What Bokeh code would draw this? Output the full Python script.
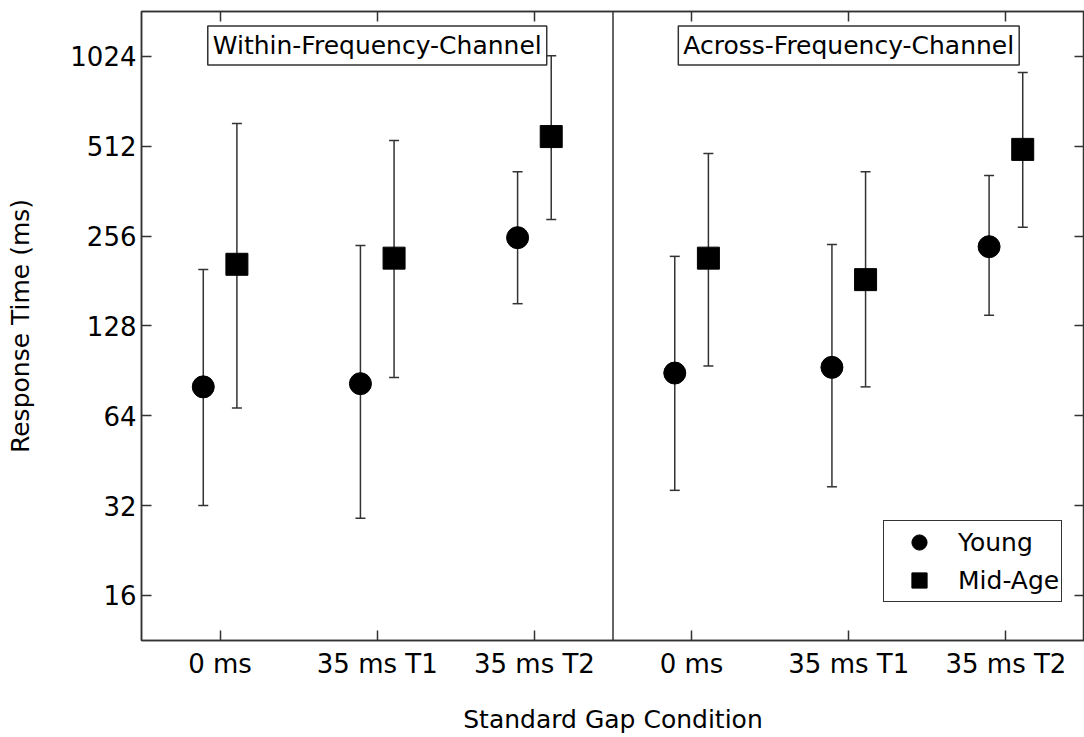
import numpy as np
from bokeh.plotting import figure
from bokeh.models import (ColumnDataSource, Whisker, TeeHead, Range1d, FixedTicker,
                          LinearAxis, LogAxis, Span, Label, Legend, LegendItem)
from bokeh.embed import file_html
from bokeh.resources import INLINE

# ---- data ----
panels = ["Within-Frequency-Channel", "Across-Frequency-Channel"]
conditions = ["0 ms", "35 ms T1", "35 ms T2"]
young_mean = [80, 82, 253, 89, 93, 236]
young_upper = [198, 238, 421, 219, 240, 409]
young_lower = [32, 29, 152, 36, 37, 139]
mid_mean = [206, 216, 552, 216, 183, 500]
mid_upper = [610, 535, 1030, 484, 421, 905]
mid_lower = [68, 86, 291, 94, 80, 274]
y_ticks = [16, 32, 64, 128, 256, 512, 1024]

FONT = "DejaVu Sans"
LINE = "#333333"
OFFSET = 0.107

n = len(panels) * len(conditions)
base = np.arange(n)
src_y = ColumnDataSource(dict(x=base - OFFSET, y=young_mean, up=young_upper, lo=young_lower))
src_m = ColumnDataSource(dict(x=base + OFFSET, y=mid_mean, up=mid_upper, lo=mid_lower))

p = figure(width=1084, height=737, y_axis_type="log",
           x_range=Range1d(-0.5, n - 0.5), y_range=Range1d(11.3, 1449),
           output_backend="svg", toolbar_location=None,
           min_border_left=141, min_border_top=11, min_border_right=0, min_border_bottom=97)
p.grid.visible = False
p.outline_line_color = LINE
p.outline_line_width = 1.5
p.background_fill_color = "white"
p.border_fill_color = "white"

xlabels = {int(i): conditions[i % len(conditions)] for i in base}

def style_axis(ax, show_labels):
    ax.axis_line_color = LINE
    ax.axis_line_width = 1.5
    ax.major_tick_line_color = LINE
    ax.major_tick_line_width = 1.5
    ax.major_tick_in = 10
    ax.major_tick_out = 0
    ax.minor_tick_line_color = None
    ax.major_label_text_font = FONT
    if show_labels:
        ax.major_label_text_font_size = "26px"
        ax.major_label_text_color = "black"
    else:
        ax.major_label_text_font_size = "1px"
        ax.major_label_text_color = None
        ax.major_label_standoff = 0

# bottom axis
xa = p.xaxis[0]
xa.ticker = FixedTicker(ticks=list(base))
xa.major_label_overrides = xlabels
style_axis(xa, True)
xa.major_label_standoff = 8
xa.axis_label = "Standard Gap Condition"
xa.axis_label_text_font = FONT
xa.axis_label_text_font_size = "25px"
xa.axis_label_text_font_style = "normal"
xa.axis_label_text_color = "black"
xa.axis_label_standoff = 23

# left axis
ya = p.yaxis[0]
ya.ticker = FixedTicker(ticks=y_ticks)
ya.major_label_overrides = {t: str(t) for t in y_ticks}
style_axis(ya, True)
ya.major_label_standoff = 5
ya.axis_label = "Response Time (ms)"
ya.axis_label_text_font = FONT
ya.axis_label_text_font_size = "25px"
ya.axis_label_text_font_style = "normal"
ya.axis_label_text_color = "black"
ya.axis_label_standoff = 32

# top and right axes (ticks only)
top = LinearAxis(ticker=FixedTicker(ticks=list(base)))
style_axis(top, False)
p.add_layout(top, "above")
right = LogAxis(ticker=FixedTicker(ticks=y_ticks))
style_axis(right, False)
p.add_layout(right, "right")

# panel divider
p.add_layout(Span(location=(n - 1) / 2, dimension="height", line_color=LINE, line_width=1.5))

# error bars
for s in (src_y, src_m):
    w = Whisker(base="x", upper="up", lower="lo", source=s, line_color=LINE, line_width=1.5,
                upper_head=TeeHead(size=10, line_color=LINE, line_width=1.5),
                lower_head=TeeHead(size=10, line_color=LINE, line_width=1.5))
    p.add_layout(w)

r_y = p.scatter("x", "y", source=src_y, marker="circle", size=22, fill_color="black", line_color="black")
r_m = p.scatter("x", "y", source=src_m, marker="square", size=22, fill_color="black", line_color="black")

# panel titles
for i, name in enumerate(panels):
    center = i * len(conditions) + (len(conditions) - 1) / 2
    p.add_layout(Label(x=center, y=1115, text=name, text_align="center", text_baseline="middle",
                       text_font=FONT, text_font_size="25px", text_color="black",
                       border_line_color=LINE, border_line_width=1.5,
                       background_fill_color="white", padding=5))

legend = Legend(items=[LegendItem(label="Young", renderers=[r_y]),
                       LegendItem(label="Mid-Age", renderers=[r_m])],
                location=(742, 38), label_text_font=FONT, label_text_font_size="25px",
                label_text_color="black",
                border_line_color=LINE, border_line_width=1.5, border_line_alpha=1,
                padding=2, spacing=0,
                glyph_width=66, glyph_height=38, label_height=38, label_standoff=6,
                margin=0, background_fill_color="white", background_fill_alpha=1)
p.add_layout(legend)

open("out.html", "w").write(file_html(p, INLINE))
